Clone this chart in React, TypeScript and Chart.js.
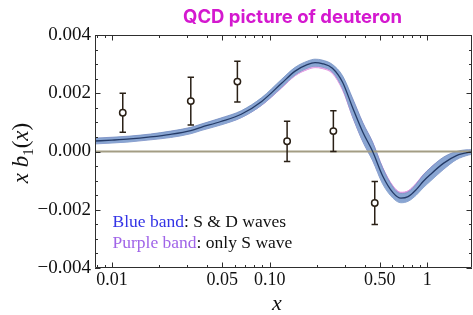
import { useEffect, useRef } from "react";
import { Chart, registerables } from "chart.js";

Chart.register(...registerables);

// ---------- data ----------
const curveX = [0.0078, 0.01, 0.013, 0.0175, 0.0235, 0.0316, 0.0367, 0.049, 0.066, 0.089, 0.119, 0.145, 0.173, 0.194, 0.215, 0.25, 0.29, 0.335, 0.39, 0.45, 0.52, 0.605, 0.68, 0.755, 0.85, 0.94, 1.045, 1.27, 1.53, 1.83, 2.0];
const blueMid = [0.00036, 0.00039, 0.00043, 0.0005, 0.00059, 0.00072, 0.00083, 0.00103, 0.00128, 0.00172, 0.00234, 0.00276, 0.00298, 0.00305, 0.00302, 0.00286, 0.00238, 0.00152, 0.00066, 0.0, -0.00083, -0.00141, -0.0016, -0.00155, -0.00131, -0.00103, -0.00079, -0.0004, -0.00014, -0.00003, -0.00001];
const blueHigh = [0.00046, 0.00049, 0.00053, 0.0006, 0.0007, 0.00083, 0.00094, 0.00115, 0.0014, 0.00185, 0.00248, 0.00289, 0.0031, 0.00317, 0.00314, 0.00299, 0.0026, 0.00184, 0.00099, 0.00032, -0.00055, -0.00122, -0.00144, -0.00139, -0.00112, -0.00081, -0.00056, -0.00019, 0.0, 0.00006, 0.00006];
const blueLow = [0.00026, 0.00029, 0.00033, 0.0004, 0.00048, 0.00061, 0.00072, 0.00091, 0.00116, 0.00159, 0.0022, 0.00263, 0.00286, 0.00293, 0.0029, 0.00273, 0.00216, 0.0012, 0.00033, -0.00032, -0.00111, -0.0016, -0.00176, -0.00171, -0.0015, -0.00125, -0.00102, -0.00061, -0.00028, -0.00012, -0.00008];
const purpleHigh = [0.00044, 0.00047, 0.00051, 0.00058, 0.00068, 0.00081, 0.00092, 0.00113, 0.00137, 0.00181, 0.00242, 0.00281, 0.003, 0.00306, 0.00303, 0.00288, 0.00252, 0.0018, 0.00097, 0.00031, -0.00054, -0.00118, -0.0014, -0.00135, -0.00109, -0.0008, -0.00056, -0.00021, -0.00002, 0.00004, 0.00004];
const purpleLow = [0.00028, 0.00031, 0.00035, 0.00042, 0.0005, 0.00063, 0.00074, 0.00093, 0.00117, 0.00159, 0.00218, 0.0026, 0.00281, 0.00288, 0.00285, 0.00268, 0.00211, 0.0012, 0.00035, -0.00029, -0.00105, -0.0015, -0.00164, -0.0016, -0.00142, -0.0012, -0.00098, -0.00059, -0.00026, -0.0001, -0.00006];

const pointX = [0.0117, 0.0316, 0.0624, 0.129, 0.2535, 0.464];
const pointY = [0.00133, 0.00173, 0.0024, 0.00035, 0.0007, -0.00177];
const pointErr = [0.00067, 0.00082, 0.0007, 0.00069, 0.0007, 0.00074];

const xTickValues = [0.01, 0.05, 0.1, 0.5, 1];
const xTickLabels = ["0.01", "0.05", "0.10", "0.50", "1"];
const xMinorTicks = [0.008, 0.009, 0.02, 0.03, 0.04, 0.06, 0.07, 0.08, 0.09, 0.2, 0.3, 0.4, 0.6, 0.7, 0.8, 0.9];
const yTickValues = [-0.004, -0.002, 0, 0.002, 0.004];
const yTickLabels = ["\u22120.004", "\u22120.002", "0.000", "0.002", "0.004"];
const yMinorTicks = [-0.0035, -0.003, -0.0025, -0.0015, -0.001, -0.0005, 0.0005, 0.001, 0.0015, 0.0025, 0.003, 0.0035];

const X_MIN = 0.0078;
const X_MAX = 1.92;
const Y_MIN = -0.004;
const Y_MAX = 0.004;

const TITLE = "QCD picture of deuteron";
const LEGEND_LINES = [
  { colored: "Blue band", color: "#3434e6", rest: ": S & D waves" },
  { colored: "Purple band", color: "#a064e8", rest: ": only S wave" },
];

const SERIF = '"Liberation Serif", "Times New Roman", serif';

const xy = (xs: number[], ys: number[]) => xs.map((x, i) => ({ x, y: ys[i] }));

const framePlugin = {
  id: "frame",
  afterDraw(chart: any) {
    const { ctx, chartArea: a, scales } = chart;
    const xs = scales.x;
    const ys = scales.y;
    ctx.save();
    ctx.strokeStyle = "#2e2e2e";
    ctx.lineWidth = 1;
    ctx.beginPath();
    ctx.rect(a.left + 0.5, a.top + 0.5, a.right - a.left - 1, a.bottom - a.top - 1);
    ctx.stroke();
    const tickX = (v: number, len: number) => {
      const p = Math.round(xs.getPixelForValue(v)) + 0.5;
      ctx.moveTo(p, a.bottom);
      ctx.lineTo(p, a.bottom - len);
      ctx.moveTo(p, a.top);
      ctx.lineTo(p, a.top + len);
    };
    const tickY = (v: number, len: number) => {
      const p = Math.round(ys.getPixelForValue(v)) + 0.5;
      ctx.moveTo(a.left, p);
      ctx.lineTo(a.left + len, p);
      ctx.moveTo(a.right, p);
      ctx.lineTo(a.right - len, p);
    };
    ctx.beginPath();
    xTickValues.forEach((v) => tickX(v, 5.5));
    xMinorTicks.forEach((v) => tickX(v, 3));
    yTickValues.forEach((v) => tickY(v, 5.5));
    yMinorTicks.forEach((v) => tickY(v, 3));
    ctx.stroke();
    ctx.restore();
  },
};

const errorBarPlugin = {
  id: "errorBars",
  beforeDatasetDraw(chart: any, args: any) {
    if (args.index !== 0) return;
    const { ctx, scales } = chart;
    ctx.save();
    ctx.strokeStyle = "#2a2016";
    ctx.lineWidth = 1.5;
    pointX.forEach((x, i) => {
      const px = scales.x.getPixelForValue(x);
      const top = scales.y.getPixelForValue(pointY[i] + pointErr[i]);
      const bot = scales.y.getPixelForValue(pointY[i] - pointErr[i]);
      ctx.beginPath();
      ctx.moveTo(px, top);
      ctx.lineTo(px, bot);
      ctx.moveTo(px - 3.2, top);
      ctx.lineTo(px + 3.2, top);
      ctx.moveTo(px - 3.2, bot);
      ctx.lineTo(px + 3.2, bot);
      ctx.stroke();
    });
    ctx.restore();
  },
};

const textPlugin = {
  id: "texts",
  afterDraw(chart: any) {
    const { ctx, chartArea: a } = chart;
    ctx.save();
    // title
    ctx.fillStyle = "#d418cf";
    ctx.font = '700 18.5px Inter, "Noto Sans", sans-serif';
    ctx.textAlign = "center";
    ctx.textBaseline = "alphabetic";
    ctx.fillText(TITLE, 292.5, 23);

    // legend text
    ctx.textAlign = "left";
    ctx.font = `17.5px ${SERIF}`;
    LEGEND_LINES.forEach((l, i) => {
      const x0 = a.left + 17.5;
      const y0 = 226.5 + i * 21.5;
      ctx.fillStyle = l.color;
      ctx.fillText(l.colored, x0, y0);
      const w = ctx.measureText(l.colored).width;
      ctx.fillStyle = "#111";
      ctx.fillText(l.rest, x0 + w, y0);
    });

    // x axis title
    ctx.fillStyle = "#111";
    ctx.font = `italic 22px ${SERIF}`;
    ctx.textAlign = "center";
    ctx.fillText("x", 277, 310);

    // y axis title: x b_1(x)
    const parts = [
      { t: "x", f: `italic 23px ${SERIF}`, dy: 0 },
      { t: " ", f: `23px ${SERIF}`, dy: 0 },
      { t: "b", f: `italic 23px ${SERIF}`, dy: 0 },
      { t: "1", f: `15px ${SERIF}`, dy: 4.5 },
      { t: "(", f: `23px ${SERIF}`, dy: 0 },
      { t: "x", f: `italic 23px ${SERIF}`, dy: 0 },
      { t: ")", f: `23px ${SERIF}`, dy: 0 },
    ];
    let total = 0;
    const widths = parts.map((p) => {
      ctx.font = p.f;
      const w = ctx.measureText(p.t).width;
      total += w;
      return w;
    });
    ctx.translate(0, 153);
    ctx.rotate(-Math.PI / 2);
    ctx.textAlign = "left";
    let u = -total / 2;
    parts.forEach((p, i) => {
      ctx.font = p.f;
      ctx.fillText(p.t, u, 28 + p.dy);
      u += widths[i];
    });
    ctx.restore();
  },
};

export default function App() {
  const ref = useRef<HTMLCanvasElement>(null);
  useEffect(() => {
    if (!ref.current) return;
    const lineBase = {
      type: "line" as const,
      pointRadius: 0,
      cubicInterpolationMode: "monotone" as const,
    };
    const chart = new Chart(ref.current, {
      type: "line",
      data: {
        datasets: [
          {
            type: "scatter",
            data: xy(pointX, pointY),
            pointRadius: 3.2,
            pointBackgroundColor: "#ffffff",
            pointBorderColor: "#2a2016",
            pointBorderWidth: 1.5,
            order: 0,
          } as any,
          {
            ...lineBase,
            data: xy(curveX, blueMid),
            borderColor: "#243a66",
            borderWidth: 1.3,
            fill: false,
            order: 1,
          },
          {
            ...lineBase,
            data: [
              { x: X_MIN, y: 0 },
              { x: X_MAX, y: 0 },
            ],
            borderColor: "#a39d84",
            borderWidth: 1.8,
            fill: false,
            order: 2,
          },
          {
            ...lineBase,
            data: xy(curveX, blueHigh),
            borderColor: "#7390c3",
            borderWidth: 0.8,
            backgroundColor: "#89a5d2",
            fill: "+1",
            order: 3,
          },
          {
            ...lineBase,
            data: xy(curveX, blueLow),
            borderColor: "#7390c3",
            borderWidth: 0.8,
            fill: false,
            order: 4,
          },
          {
            ...lineBase,
            data: xy(curveX, purpleHigh),
            borderColor: "#de8ede",
            borderWidth: 1,
            backgroundColor: "#e6a8e6",
            fill: "+1",
            order: 5,
          },
          {
            ...lineBase,
            data: xy(curveX, purpleLow),
            borderColor: "#de8ede",
            borderWidth: 1,
            fill: false,
            order: 6,
          },
        ] as any,
      },
      options: {
        responsive: false,
        animation: false,
        events: [],
        layout: { autoPadding: false, padding: { left: 0, right: 1, top: 35, bottom: 0 } },
        plugins: {
          legend: { display: false },
          tooltip: { enabled: false },
          title: { display: false },
        },
        scales: {
          x: {
            type: "logarithmic",
            min: X_MIN,
            max: X_MAX,
            bounds: "data",
            grid: { display: false, drawTicks: false },
            border: { display: false },
            afterBuildTicks: (s: any) => {
              s.ticks = xTickValues.map((v) => ({ value: v }));
            },
            afterFit: (s: any) => {
              s.height = 47;
              s.paddingLeft = 0;
              s.paddingRight = 0;
            },
            ticks: {
              autoSkip: false,
              maxRotation: 0,
              minRotation: 0,
              padding: 1,
              color: "#111",
              font: { family: SERIF, size: 18 },
              callback: (_v: any, i: number) => xTickLabels[i],
            },
          },
          y: {
            type: "linear",
            min: Y_MIN,
            max: Y_MAX,
            grid: { display: false, drawTicks: false },
            border: { display: false },
            afterBuildTicks: (s: any) => {
              s.ticks = yTickValues.map((v) => ({ value: v }));
            },
            afterFit: (s: any) => {
              s.width = 95;
              s.paddingTop = 0;
              s.paddingBottom = 0;
            },
            ticks: {
              padding: 4,
              color: "#111",
              font: { family: SERIF, size: 19 },
              callback: (_v: any, i: number) => yTickLabels[i],
            },
          },
        },
      } as any,
      plugins: [errorBarPlugin, framePlugin, textPlugin],
    });
    return () => chart.destroy();
  }, []);
  return (
    <div style={{ position: "absolute", left: 0, top: 0, width: 473, height: 315, background: "#fff" }}>
      <canvas ref={ref} width={473} height={315} style={{ display: "block" }} />
    </div>
  );
}
